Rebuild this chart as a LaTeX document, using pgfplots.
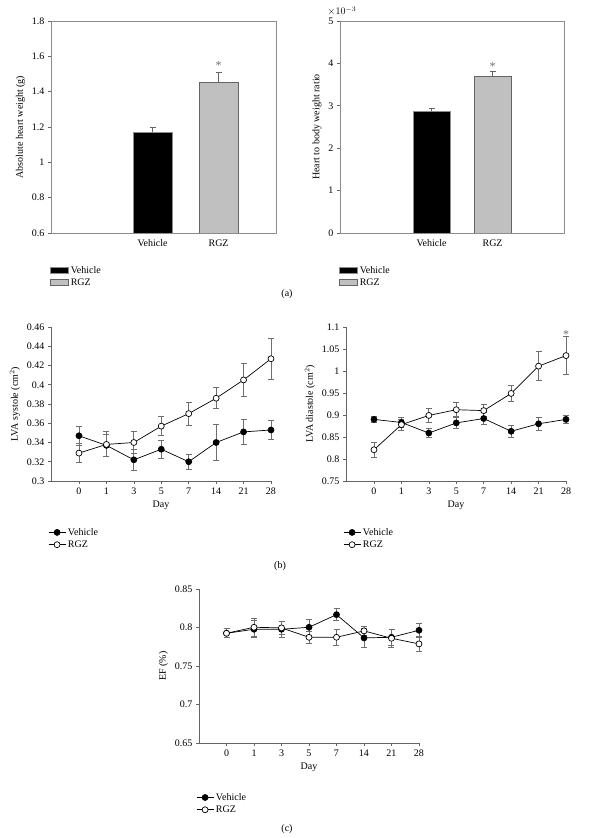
\documentclass[border=0pt]{standalone}
\usepackage{fontspec}
\setmainfont{Liberation Serif}
\usepackage{pgfplots}
\pgfplotsset{compat=1.18}
\definecolor{axgray}{RGB}{100,100,100}
\definecolor{boxgray}{RGB}{140,140,140}
\definecolor{bargray}{RGB}{192,192,192}
\definecolor{errgray}{RGB}{110,110,110}
\newcommand{\ff}{\fontsize{10}{11}\selectfont}
\pgfplotsset{
  common/.style={scale only axis,
    font=\ff,
    tick label style={font=\ff},
    label style={font=\ff},
    /pgf/number format/assume math mode=true,
    tick align=outside, major tick length=3pt,
    tick style={axgray, line width=0.6pt},
    legend cell align=left},
  barax/.style={common, axis line style={boxgray, line width=0.8pt},
    xtick={1,2}, xticklabels={Vehicle,RGZ}, xtick style={draw=none},
    ytick pos=left, xtick pos=bottom,
    legend style={at={(0,0)}, anchor=north west, xshift=-4pt, yshift=-29pt,
      draw=none, fill=none, font=\ff, row sep=0pt}},
  barlegend/.style={legend image code/.code={\draw[##1, line width=0.6pt] (0pt,-3pt) rectangle (18pt,3pt);}},
  lineax/.style={common, axis lines*=left, axis line style={axgray, line width=0.8pt, -},
    xmin=-1.02, xmax=7, xtick={0,...,7}, xticklabels={0,1,3,5,7,14,21,28},
    xlabel={Day}, clip=false,
    legend style={at={(0,#1)}, anchor=north west, xshift=-6pt, yshift=-43pt,
      draw=none, fill=none, font=\ff, row sep=0pt}},
  lineax/.default=0,
  veh/.style={black, line width=0.7pt, mark=*, mark size=3pt, mark options={fill=black, solid},
    error bars/.cd, y dir=both, y explicit,
    error bar style={errgray, line width=0.9pt},
    error mark options={rotate=90, errgray, mark size=3pt, line width=0.9pt}},
  rgz/.style={black, line width=0.7pt, mark=*, mark size=3pt, mark options={fill=white, solid},
    error bars/.cd, y dir=both, y explicit,
    error bar style={errgray, line width=0.9pt},
    error mark options={rotate=90, errgray, mark size=3pt, line width=0.9pt}},
}
\begin{document}
\begin{tikzpicture}[x=1pt,y=1pt]
\useasboundingbox (0,0) rectangle (590,838);

% ---------- (a) left ----------
\begin{axis}[barax, at={(51pt,605pt)}, anchor=south west, width=225pt, height=212pt,
  xmin=-0.54, xmax=2.87, ymin=0.6, ymax=1.8,
  ytick={0.6,0.8,1,1.2,1.4,1.6,1.8},
  ylabel={Absolute heart weight (g)}]
\addplot[ybar, bar shift=0pt, bar width=0.59, fill=black, draw=boxgray, line width=0.8pt, barlegend,
  error bars/.cd, y dir=plus, y explicit, error bar style={axgray, line width=0.9pt},
  error mark options={rotate=90, axgray, mark size=3pt, line width=0.9pt}]
  coordinates {(1,1.17) +- (0,0.03)};
\addlegendentry{Vehicle}
\addplot[ybar, bar shift=0pt, bar width=0.59, fill=bargray, draw=axgray, line width=0.8pt, barlegend,
  error bars/.cd, y dir=plus, y explicit, error bar style={axgray, line width=0.9pt},
  error mark options={rotate=90, axgray, mark size=3pt, line width=0.9pt}]
  coordinates {(2,1.45) +- (0,0.06)};
\addlegendentry{RGZ}
\node[font=\fontsize{12}{13}\selectfont, text=errgray] at (axis cs:2,1.55) {*};
\end{axis}

% ---------- (a) right ----------
\begin{axis}[barax, at={(340pt,605pt)}, anchor=south west, width=224pt, height=212pt,
  xmin=-0.50, xmax=3.17, ymin=0, ymax=0.005,
  ytick={0,0.001,0.002,0.003,0.004,0.005},
  scaled y ticks=base 10:3,
  ytick scale label code/.code={$\times 10^{#1}$},
  every y tick scale label/.style={at={(rel axis cs:0,1)}, anchor=south, xshift=2pt, yshift=4pt, inner sep=1pt},
  ylabel={Heart to body weight ratio}]
\addplot[ybar, bar shift=0pt, bar width=0.61, fill=black, draw=boxgray, line width=0.8pt, barlegend,
  error bars/.cd, y dir=plus, y explicit, error bar style={axgray, line width=0.9pt},
  error mark options={rotate=90, axgray, mark size=3pt, line width=0.9pt}]
  coordinates {(1,0.00287) +- (0,0.00006)};
\addlegendentry{Vehicle}
\addplot[ybar, bar shift=0pt, bar width=0.61, fill=bargray, draw=axgray, line width=0.8pt, barlegend,
  error bars/.cd, y dir=plus, y explicit, error bar style={axgray, line width=0.9pt},
  error mark options={rotate=90, axgray, mark size=3pt, line width=0.9pt}]
  coordinates {(2,0.00370) +- (0,0.00010)};
\addlegendentry{RGZ}
\node[font=\fontsize{12}{13}\selectfont, text=errgray] at (axis cs:2,0.00393) {*};
\end{axis}
\node[font=\ff] at (287,544) {(a)};

% ---------- (b) left ----------
\begin{axis}[lineax, at={(51pt,357pt)}, anchor=south west, width=220pt, height=154pt,
  ymin=0.3, ymax=0.46,
  ytick={0.3,0.32,0.34,0.36,0.38,0.4,0.42,0.44,0.46},
  ylabel={LVA systole (cm$^2$)}]
\addplot[veh] coordinates {
 (0,0.347) +- (0,0.010)
 (1,0.337) +- (0,0.011)
 (2,0.322) +- (0,0.011)
 (3,0.333) +- (0,0.0095)
 (4,0.320) +- (0,0.008)
 (5,0.340) +- (0,0.019)
 (6,0.351) +- (0,0.013)
 (7,0.353) +- (0,0.010)};
\addlegendentry{Vehicle}
\addplot[rgz] coordinates {
 (0,0.329) +- (0,0.010)
 (1,0.338) +- (0,0.013)
 (2,0.340) +- (0,0.011)
 (3,0.357) +- (0,0.010)
 (4,0.370) +- (0,0.012)
 (5,0.386) +- (0,0.011)
 (6,0.405) +- (0,0.017)
 (7,0.427) +- (0,0.021)};
\addlegendentry{RGZ}
\end{axis}

% ---------- (b) right ----------
\begin{axis}[lineax, at={(346pt,357pt)}, anchor=south west, width=220pt, height=154pt,
  ymin=0.75, ymax=1.1,
  ytick={0.75,0.8,0.85,0.9,0.95,1,1.05,1.1},
  ylabel={LVA diastole (cm$^2$)}]
\addplot[veh] coordinates {
 (0,0.890) +- (0,0.0075)
 (1,0.883) +- (0,0.011)
 (2,0.859) +- (0,0.011)
 (3,0.882) +- (0,0.013)
 (4,0.892) +- (0,0.013)
 (5,0.863) +- (0,0.013)
 (6,0.880) +- (0,0.015)
 (7,0.890) +- (0,0.009)};
\addlegendentry{Vehicle}
\addplot[rgz] coordinates {
 (0,0.821) +- (0,0.017)
 (1,0.878) +- (0,0.012)
 (2,0.899) +- (0,0.015)
 (3,0.912) +- (0,0.016)
 (4,0.910) +- (0,0.014)
 (5,0.949) +- (0,0.019)
 (6,1.011) +- (0,0.033)
 (7,1.035) +- (0,0.043)};
\addlegendentry{RGZ}
\node[font=\fontsize{12}{13}\selectfont, text=errgray] at (axis cs:7,1.083) {*};
\end{axis}
\node[font=\ff] at (280,272) {(b)};

% ---------- (c) ----------
\begin{axis}[lineax=-0.02, at={(199pt,95pt)}, anchor=south west, width=220pt, height=154pt,
  xmin=-1.0, ymin=0.65, ymax=0.85,
  ytick={0.65,0.7,0.75,0.8,0.85},
  ylabel={EF (\%)}]
\addplot[veh] coordinates {
 (0,0.7925) +- (0,0.006)
 (1,0.7977) +- (0,0.011)
 (2,0.7977) +- (0,0.010)
 (3,0.8003) +- (0,0.010)
 (4,0.8167) +- (0,0.0075)
 (5,0.7865) +- (0,0.012)
 (6,0.7873) +- (0,0.010)
 (7,0.7964) +- (0,0.009)};
\addlegendentry{Vehicle}
\addplot[rgz] coordinates {
 (0,0.7925) +- (0,0.006)
 (1,0.8003) +- (0,0.012)
 (2,0.7995) +- (0,0.009)
 (3,0.7873) +- (0,0.008)
 (4,0.7873) +- (0,0.010)
 (5,0.7956) +- (0,0.006)
 (6,0.7860) +- (0,0.012)
 (7,0.7787) +- (0,0.010)};
\addlegendentry{RGZ}
\end{axis}
\node[font=\ff] at (287,9) {(c)};
\end{tikzpicture}
\end{document}
